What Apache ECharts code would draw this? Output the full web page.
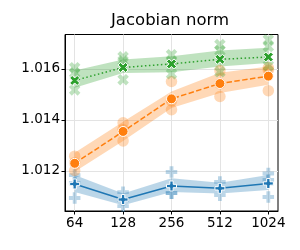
<!DOCTYPE html>
<html><head><meta charset="utf-8">
<script src="https://cdn.jsdelivr.net/npm/echarts@6/dist/echarts.min.js"></script>
<style>html,body{margin:0;padding:0;background:#fff}#c{width:300px;height:250px}</style>
</head><body><div id="c"></div>
<script>
// ---- data ----
const categories = ['64', '128', '256', '512', '1024'];
const yTicks = [1.012, 1.014, 1.016];

const blueMean  = [1.01149, 1.01088, 1.01141, 1.01132, 1.01151];
const blueLow   = [1.01118, 1.01066, 1.01118, 1.01112, 1.01125];
const blueHigh  = [1.01184, 1.01112, 1.01171, 1.01154, 1.01184];
const blueSeeds = [[1.01184, 1.01153, 1.01094], [1.01117, 1.01086, 1.01062], [1.01196, 1.01113, 1.01113], [1.01157, 1.01133, 1.01105], [1.01190, 1.01165, 1.01098]];

const orangeMean  = [1.01230, 1.01355, 1.01483, 1.01543, 1.01572];
const orangeLow   = [1.01197, 1.01318, 1.01447, 1.01506, 1.01538];
const orangeHigh  = [1.01271, 1.01393, 1.01512, 1.01585, 1.01610];
const orangeSeeds = [[1.01258, 1.01232, 1.01202], [1.01389, 1.01362, 1.01318], [1.01551, 1.01475, 1.01440], [1.01594, 1.01542, 1.01492], [1.01605, 1.01595, 1.01515]];

const greenMean  = [1.01555, 1.01606, 1.01620, 1.01638, 1.01647];
const greenLow   = [1.01526, 1.01584, 1.01587, 1.01610, 1.01624];
const greenHigh  = [1.01594, 1.01637, 1.01650, 1.01673, 1.01683];
const greenSeeds = [[1.01605, 1.01585, 1.01518], [1.01648, 1.01632, 1.01558], [1.01656, 1.01629, 1.01581], [1.01696, 1.01672, 1.01589], [1.01715, 1.01688, 1.01613]];

// ---- styling ----
const FONT = 'DejaVu Sans';
const PLUS = 'path://M-1,-3L1,-3L1,-1L3,-1L3,1L1,1L1,3L-1,3L-1,1L-3,1L-3,-1L-1,-1Z';
const XMARK = 'path://M1,-2L2,-1L1,0L2,1L1,2L0,1L-1,2L-2,1L-1,0L-2,-1L-1,-2L0,-1Z';

const groups = [
  {color: '#1f77b4', mean: blueMean, low: blueLow, high: blueHigh, seeds: blueSeeds, symbol: PLUS, size: 10, dash: 'solid'},
  {color: '#ff7f0e', mean: orangeMean, low: orangeLow, high: orangeHigh, seeds: orangeSeeds, symbol: 'circle', size: 10, dash: [5.5, 2.4]},
  {color: '#2ca02c', mean: greenMean, low: greenLow, high: greenHigh, seeds: greenSeeds, symbol: XMARK, size: 10, dash: [1.5, 2.5]}
];

const series = [];
groups.forEach(g => {
  series.push({
    type: 'custom', coordinateSystem: 'cartesian2d', silent: true, z: 1,
    data: [[0, g.low[0]]],
    renderItem: (params, api) => {
      const pts = [];
      g.high.forEach((v, i) => pts.push(api.coord([i, v])));
      for (let i = g.low.length - 1; i >= 0; i--) pts.push(api.coord([i, g.low[i]]));
      return {type: 'polygon', shape: {points: pts}, style: {fill: g.color, opacity: 0.3}};
    }
  });
  const sd = [];
  g.seeds.forEach((arr, i) => arr.forEach(v => sd.push([i, v])));
  series.push({
    type: 'scatter', silent: true, z: 2, data: sd,
    symbol: g.symbol, symbolSize: g.size + 1.5,
    itemStyle: {color: g.color, opacity: 0.3}
  });
  series.push({
    type: 'line', silent: true, z: 3,
    data: g.mean.map((v, i) => [i, v]),
    symbol: g.symbol, symbolSize: g.size, showSymbol: true,
    lineStyle: {color: g.color, width: 1.5, type: g.dash},
    itemStyle: {color: g.color, borderColor: '#fff', borderWidth: 1}
  });
});

const chart = echarts.init(document.getElementById('c'), null, {renderer: 'canvas'});
chart.setOption({
  animation: false,
  backgroundColor: '#fff',
  title: {
    text: 'Jacobian norm', left: 106, top: 7,
    textStyle: {fontFamily: FONT, fontSize: 16.5, fontWeight: 'normal', color: '#000'}
  },
  grid: {left: 65, right: 22, top: 34.5, bottom: 39, show: true, borderColor: '#000', borderWidth: 1, backgroundColor: 'transparent'},
  xAxis: {
    type: 'value', min: -0.2, max: 4.2, splitNumber: 4,
    axisLine: {show: true, onZero: false, lineStyle: {color: '#000', width: 1}},
    axisTick: {show: true, inside: false, length: 3.5, lineStyle: {color: '#000'}, customValues: [0, 1, 2, 3, 4]},
    axisLabel: {
      customValues: [0, 1, 2, 3, 4],
      formatter: v => categories[Math.round(v)] || '',
      fontFamily: FONT, fontSize: 13.5, color: '#000', margin: 5
    },
    splitLine: {show: true, lineStyle: {color: '#e3e3e3', width: 1}}
  },
  yAxis: {
    type: 'value', min: 1.01043, max: 1.017353, splitNumber: 4,
    axisLine: {show: true, onZero: false, lineStyle: {color: '#000', width: 1}},
    axisTick: {show: true, inside: false, length: 3.5, lineStyle: {color: '#000'}, customValues: yTicks},
    axisLabel: {
      customValues: yTicks,
      formatter: v => v.toFixed(3),
      fontFamily: FONT, fontSize: 13.5, color: '#000', margin: 5
    },
    splitLine: {show: true, lineStyle: {color: '#e3e3e3', width: 1}}
  },
  series: series
});
</script>
</body></html>
